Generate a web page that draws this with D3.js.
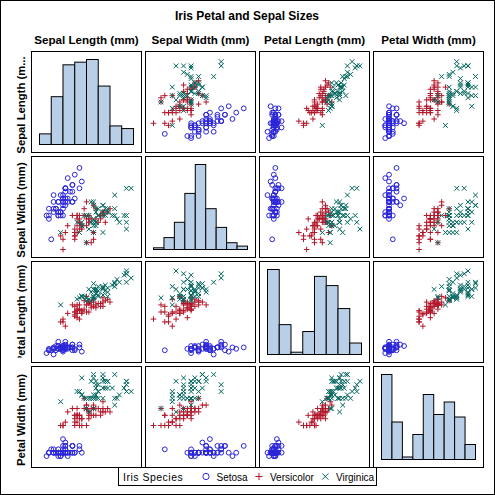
<!DOCTYPE html>
<html>
<head>
<meta charset="utf-8">
<script src="https://cdn.jsdelivr.net/npm/d3@7"></script>
<style>
html,body{margin:0;padding:0;background:#fff;}
svg{display:block;}
</style>
</head>
<body>
<script>
// ---- Data (Fisher's Iris, mm) ----
const speciesNames = ["Setosa", "Versicolor", "Virginica"];
const varNames = ["Sepal Length (mm)", "Sepal Width (mm)", "Petal Length (mm)", "Petal Width (mm)"];
const rowLabels = ["Sepal Length (m...", "Sepal Width (mm)", "Petal Length (mm)", "Petal Width (mm)"];

const setosaSL = [51,49,47,46,50,54,46,50,44,49,54,48,48,43,58,57,54,51,57,51,54,51,46,51,48,50,50,52,52,47,48,54,52,55,49,50,55,49,44,51,50,45,44,50,51,48,51,46,53,50];
const setosaSW = [35,30,32,31,36,39,34,34,29,31,37,34,30,30,40,44,39,35,38,38,34,37,36,33,34,30,34,35,34,32,31,34,41,42,31,32,35,36,30,34,35,23,32,35,38,30,38,32,37,33];
const setosaPL = [14,14,13,15,14,17,14,15,14,15,15,16,14,11,12,15,13,14,17,15,17,15,10,17,19,16,16,15,14,16,16,15,15,14,15,12,13,14,13,15,13,13,13,16,19,14,16,14,15,14];
const setosaPW = [2,2,2,2,2,4,3,2,2,1,2,2,1,1,2,4,4,3,3,3,2,4,2,5,2,2,4,2,2,2,2,4,1,2,2,2,2,1,2,2,3,3,2,6,4,3,2,2,2,2];

const versicolorSL = [70,64,69,55,65,57,63,49,66,52,50,59,60,61,56,67,56,58,62,56,59,61,63,61,64,66,68,67,60,57,55,55,58,60,54,60,67,63,56,55,55,61,58,50,56,57,57,62,51,57];
const versicolorSW = [32,32,31,23,28,28,33,24,29,27,20,30,22,29,29,31,30,27,22,25,32,28,25,28,29,30,28,30,29,26,24,24,27,27,30,34,31,23,30,25,26,30,26,23,27,30,29,29,25,28];
const versicolorPL = [47,45,49,40,46,45,47,33,46,39,35,42,40,47,36,44,45,41,45,39,48,40,49,47,43,44,48,50,45,35,38,37,39,51,45,45,47,44,41,40,44,46,40,33,42,42,42,43,30,41];
const versicolorPW = [14,15,15,13,15,13,16,10,13,14,10,15,10,14,13,14,15,10,15,11,18,13,15,12,13,14,14,17,15,10,11,10,12,16,15,16,15,13,13,13,12,14,12,10,13,12,13,13,11,13];

const virginicaSL = [63,58,71,63,65,76,49,73,67,72,65,64,68,57,58,64,65,77,77,60,69,56,77,63,67,72,62,61,64,72,74,79,64,63,61,77,63,64,60,69,67,69,58,68,67,67,63,65,62,59];
const virginicaSW = [33,27,30,29,30,30,25,29,25,36,32,27,30,25,28,32,30,38,26,22,32,28,28,27,33,32,28,30,28,30,28,38,28,28,26,30,34,31,30,31,31,31,27,32,33,30,25,30,34,30];
const virginicaPL = [60,51,59,56,58,66,45,63,58,61,51,53,55,50,51,53,55,67,69,50,57,49,67,49,57,60,48,49,56,58,61,64,56,51,56,61,56,55,48,54,56,51,51,59,57,52,50,52,54,51];
const virginicaPW = [25,19,21,18,22,21,17,18,18,25,20,19,21,20,24,23,18,22,23,15,23,20,20,18,21,18,18,18,21,16,19,20,22,15,14,23,24,18,18,21,24,23,19,23,25,23,19,20,23,18];

// axis ranges for scatter cells (per variable)
const axisMin = [40, 20, 10, 0];
const axisMax = [80, 45, 70, 25];
// histogram bin edges (per variable)
const binEdgesSL = [40,45,50,55,60,65,70,75,80];
const binEdgesSW = [18,21,24,27,30,33,36,39,42,45];
const binEdgesPL = [8,16,24,32,40,48,56,64,72];
const binEdgesPW = [0,3,6,9,12,15,18,21,24,27];

// ---- Build ----
const groups = [
  [setosaSL, setosaSW, setosaPL, setosaPW],
  [versicolorSL, versicolorSW, versicolorPL, versicolorPW],
  [virginicaSL, virginicaSW, virginicaPL, virginicaPW]
];
const binEdges = [binEdgesSL, binEdgesSW, binEdgesPL, binEdgesPW];
const colors = ["#2A25D9", "#B2182B", "#01665E"];
const histFill = "#B9CFE7";
const FONT = "'Liberation Sans', Arial, Helvetica, sans-serif";

const W = 495, H = 495;
const cellX0 = 31.5, cellStepX = 114, cellW = 110;
const cellY0 = 51.5, cellStepY = 105, cellH = 101;
const pad = 8;

const svg = d3.select("body").append("svg").attr("width", W).attr("height", H);
svg.append("rect").attr("x", 0).attr("y", 0).attr("width", W).attr("height", H).attr("fill", "#fff");
svg.append("rect").attr("x", 0.5).attr("y", 0.5).attr("width", W - 1).attr("height", H - 1)
  .attr("fill", "none").attr("stroke", "#000");

svg.append("text").attr("x", 247).attr("y", 20).attr("text-anchor", "middle")
  .attr("font-family", FONT).attr("font-weight", "bold").attr("font-size", 12)
  .text("Iris Petal and Sepal Sizes");

const defs = svg.append("defs");

// column headers
varNames.forEach((name, j) => {
  svg.append("text").attr("x", cellX0 + j * cellStepX + cellW / 2).attr("y", 44)
    .attr("text-anchor", "middle").attr("font-family", FONT).attr("font-weight", "bold")
    .attr("font-size", 11.6).text(name);
});

// row labels (clipped to their row, like the original)
rowLabels.forEach((name, i) => {
  const top = cellY0 + i * cellStepY;
  const clipH = i === 2 ? cellH - 5 : cellH + 1;
  defs.append("clipPath").attr("id", "rl" + i).append("rect")
    .attr("x", 0).attr("y", top).attr("width", 31).attr("height", clipH);
  svg.append("g").attr("clip-path", "url(#rl" + i + ")")
    .append("text")
    .attr("transform", `translate(25,${top + cellH / 2 + (i === 2 ? 2 : 3)}) rotate(-90)`)
    .attr("text-anchor", "middle").attr("font-family", FONT).attr("font-weight", "bold")
    .attr("font-size", 11.3).text(name);
});

function markerPath(k, s) {
  if (k === 1) return `M${-s},0H${s}M0,${-s}V${s}`;
  const d = s * 0.85;
  return `M${-d},${-d}L${d},${d}M${-d},${d}L${d},${-d}`;
}

function drawMarker(g, k, x, y, scale) {
  if (k === 0) {
    g.append("circle").attr("cx", x).attr("cy", y).attr("r", 2.4 * scale)
      .attr("fill", "none").attr("stroke", colors[0]).attr("stroke-width", 1);
  } else {
    g.append("path").attr("transform", `translate(${x},${y})`)
      .attr("d", markerPath(k, 2.8 * scale))
      .attr("fill", "none").attr("stroke", colors[k]).attr("stroke-width", 1);
  }
}

for (let i = 0; i < 4; i++) {
  for (let j = 0; j < 4; j++) {
    const x0 = cellX0 + j * cellStepX, y0 = cellY0 + i * cellStepY;
    const g = svg.append("g");
    g.append("rect").attr("x", x0).attr("y", y0).attr("width", cellW).attr("height", cellH)
      .attr("fill", "#fff").attr("stroke", "none");
    if (i === j) {
      const edges = binEdges[j];
      const all = groups.flatMap(gr => gr[j]);
      const bins = d3.bin().domain([edges[0], edges[edges.length - 1]])
        .thresholds(edges.slice(1, -1))(all);
      const xs = d3.scaleLinear().domain([edges[0], edges[edges.length - 1]]).range([x0 + pad, x0 + cellW - pad]);
      const ys = d3.scaleLinear().domain([0, d3.max(bins, b => b.length)]).range([y0 + cellH - pad, y0 + pad]);
      g.selectAll("rect.bar").data(bins).enter().append("rect").attr("class", "bar")
        .attr("x", b => xs(b.x0)).attr("width", b => xs(b.x1) - xs(b.x0))
        .attr("y", b => ys(b.length)).attr("height", b => ys(0) - ys(b.length))
        .attr("fill", histFill).attr("stroke", "#000").attr("stroke-width", 1);
    } else {
      const xs = d3.scaleLinear().domain([axisMin[j], axisMax[j]]).range([x0 + pad, x0 + cellW - pad]);
      const ys = d3.scaleLinear().domain([axisMin[i], axisMax[i]]).range([y0 + cellH - pad, y0 + pad]);
      groups.forEach((gr, k) => {
        gr[j].forEach((v, n) => {
          drawMarker(g, k, xs(v), ys(gr[i][n]), 1);
        });
      });
    }
    g.append("rect").attr("x", x0).attr("y", y0).attr("width", cellW).attr("height", cellH)
      .attr("fill", "none").attr("stroke", "#000").attr("stroke-width", 1);
  }
}

// legend
const lg = svg.append("g");
lg.append("rect").attr("x", 118.5).attr("y", 467.5).attr("width", 258).attr("height", 18)
  .attr("fill", "#fff").attr("stroke", "#000");
lg.append("text").attr("x", 123).attr("y", 480.5).attr("font-family", FONT)
  .attr("font-size", 10.5).attr("letter-spacing", 0.5).text("Iris Species");
const legX = [206, 259, 325.3];
const legTX = [216.5, 270, 336];
speciesNames.forEach((s, k) => {
  drawMarker(lg, k, legX[k], 476.5, 1.3);
  lg.append("text").attr("x", legTX[k]).attr("y", 480.5).attr("font-family", FONT)
    .attr("font-size", 10).text(s);
});
</script>
</body>
</html>
